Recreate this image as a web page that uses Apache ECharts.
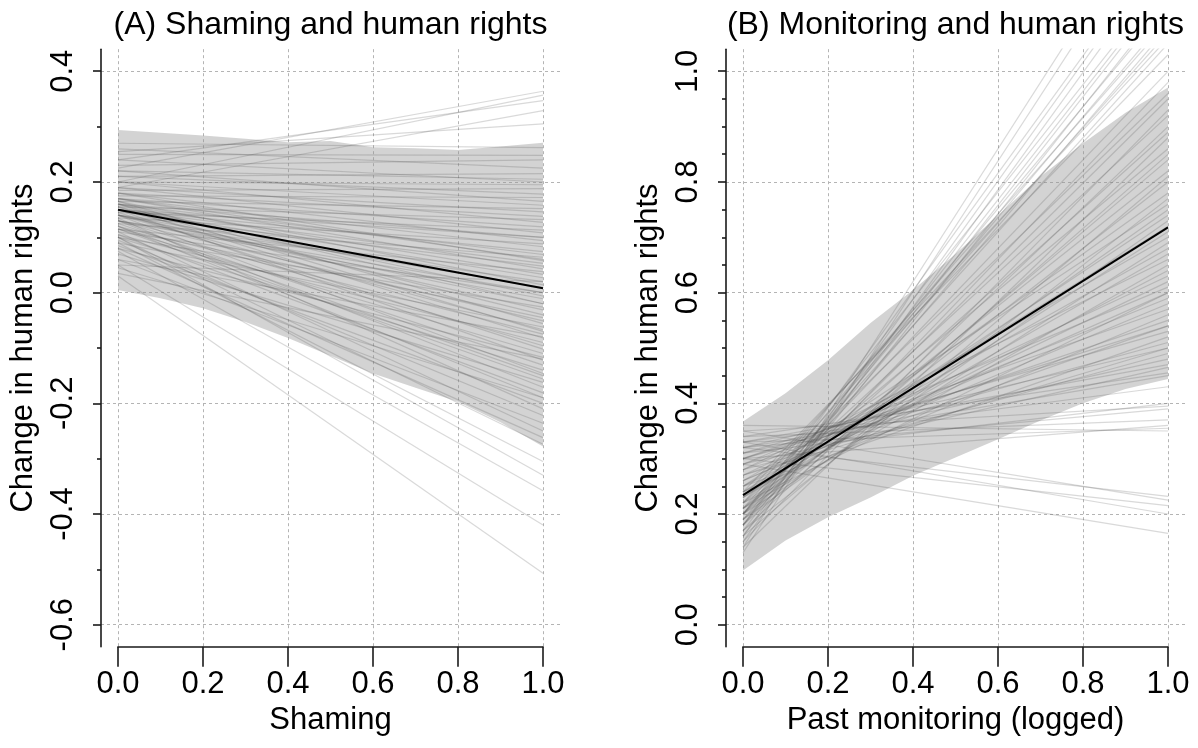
<!DOCTYPE html>
<html><head><meta charset="utf-8">
<script src="https://cdn.jsdelivr.net/npm/echarts@6/dist/echarts.min.js"></script>
<style>html,body{margin:0;padding:0;background:#fff}#c{width:1198px;height:748px}</style>
</head><body><div id="c"></div><script>
// ---------- data ----------
const xTicks = [0, 0.2, 0.4, 0.6, 0.8, 1.0];
const bandX = [0, 0.1, 0.2, 0.3, 0.4, 0.5, 0.6, 0.7, 0.8, 0.9, 1.0];

// Panel A: Shaming
const shamingBandUpper = [0.294, 0.289, 0.284, 0.278, 0.272, 0.274, 0.263, 0.261, 0.258, 0.264, 0.271];
const shamingBandLower = [0.005, -0.010, -0.028, -0.053, -0.082, -0.114, -0.146, -0.172, -0.197, -0.234, -0.278];
const shamingMean = [0.150, 0.008];       // at x = 0 and x = 1
const shamingDrawStart = [0.225,0.20,0.24,0.19,0.255,0.27,0.25,0.23,0.26,0.21,0.24,0.22,0.20,0.185,0.21,0.175,0.22,0.20,0.165,0.19,
  0.18,0.155,0.20,0.17,0.145,0.19,0.16,0.18,0.135,0.17,0.15,0.16,0.125,0.18,0.15,0.14,0.17,0.115,0.16,0.15,
  0.13,0.165,0.14,0.11,0.155,0.13,0.16,0.10,0.14,0.15,0.115,0.13,0.165,0.09,0.14,0.12,0.155,0.105,0.13,0.145,
  0.115,0.08,0.15,0.125,0.10,0.14,0.115,0.07,0.13,0.105,0.12,0.085,0.135,0.095,0.06,0.11,0.08,0.10,0.09,0.10,
  0.075,0.05,0.03,0.035,0.05,0.06,0.045,0.15,0.17,0.14,0.16,0.12,0.13];
const shamingDrawEnd = [0.364,0.357,0.347,0.329,0.305,0.262,0.248,0.24,0.225,0.215,0.20,0.205,0.195,0.188,0.178,0.172,0.165,0.158,0.152,0.146,
  0.138,0.132,0.127,0.119,0.113,0.108,0.10,0.094,0.088,0.083,0.074,0.069,0.064,0.058,0.053,0.048,0.043,0.038,0.033,0.027,
  0.02,0.014,0.009,0.0,-0.006,-0.011,-0.02,-0.026,-0.031,-0.04,-0.045,-0.051,-0.056,-0.062,-0.067,-0.075,-0.082,-0.09,-0.096,-0.102,
  -0.11,-0.117,-0.122,-0.131,-0.14,-0.146,-0.156,-0.162,-0.171,-0.181,-0.19,-0.20,-0.21,-0.222,-0.236,-0.25,-0.262,-0.274,-0.305,-0.33,
  -0.358,-0.42,-0.507,-0.12,0.02,-0.08,-0.19,0.10,0.06,-0.02,-0.07,-0.15,0.0];

// Panel B: Monitoring
const monitorBandUpper = [0.367, 0.418, 0.478, 0.545, 0.605, 0.670, 0.740, 0.810, 0.870, 0.925, 0.971];
const monitorBandLower = [0.098, 0.152, 0.194, 0.230, 0.269, 0.302, 0.335, 0.369, 0.400, 0.426, 0.444];
const monitorMean = [0.234, 0.718];
const monitorDrawStart = [0.14,0.13,0.16,0.18,0.15,0.18,0.20,0.17,0.20,0.19,0.22,0.21,0.18,0.23,0.20,0.16,0.24,
  0.20,0.18,0.22,0.19,0.15,0.21,0.17,0.20,0.14,0.22,0.18,0.19,0.21,0.16,0.20,0.23,0.17,0.25,0.21,0.19,0.24,0.22,0.26,0.20,
  0.25,0.23,0.28,0.21,0.24,0.27,0.25,0.29,0.22,0.28,0.26,0.30,0.24,0.29,0.27,0.31,0.25,0.30,0.32,0.28,0.31,0.33,0.29,0.34,0.32,
  0.26,0.23,0.30,0.27,
  0.33,0.31,0.35,0.32,0.34,0.30,0.33,0.36,0.32,0.35,0.30,0.33,0.29];
const monitorDrawEnd = [1.34,1.31,1.23,1.24,1.21,1.16,1.17,1.15,1.12,1.10,1.09,1.07,1.08,1.06,1.05,1.13,1.03,
  1.00,0.98,0.96,0.95,0.93,0.92,0.90,0.89,0.88,0.86,0.85,0.84,0.82,0.81,0.80,0.78,0.77,0.76,0.75,0.73,0.72,0.71,0.70,0.69,
  0.68,0.67,0.66,0.65,0.64,0.63,0.62,0.61,0.60,0.59,0.58,0.57,0.56,0.55,0.54,0.53,0.52,0.51,0.50,0.49,0.48,0.47,0.465,0.455,0.45,
  0.60,0.74,0.54,0.50,
  0.43,0.40,0.395,0.39,0.37,0.36,0.355,0.35,0.232,0.225,0.215,0.20,0.165];

const shamingYTicks = [-0.6, 0.4];   // first / last major tick
const monitorYTicks = [0.0, 1.0];

// ---------- layout ----------
const FONT = 'Liberation Sans, Arial, Helvetica, sans-serif';
const unit = 425, pad = 0.04 * unit;
const plotTop = 49.2, plotH = 597.6, tickTop = 71.2, tickH = 553.5;
const panels = [
  {x0: 118, title: '(A) Shaming and human rights', xname: 'Shaming', yTicks: shamingYTicks, minorSplit: 2,
   upper: shamingBandUpper, lower: shamingBandLower, mean: shamingMean, s: shamingDrawStart, e: shamingDrawEnd},
  {x0: 743, title: '(B) Monitoring and human rights', xname: 'Past monitoring (logged)', yTicks: monitorYTicks, minorSplit: 4,
   upper: monitorBandUpper, lower: monitorBandLower, mean: monitorMean, s: monitorDrawStart, e: monitorDrawEnd}
];

const grid = [], xAxis = [], yAxis = [], series = [], graphic = [];
const axisCol = '#1a1a1a', gridCol = '#b4b4b4';
panels.forEach((p, k) => {
  const g0 = k * 3;
  const yMin = p.yTicks[0], yMax = p.yTicks[1];
  const span = yMax - yMin;
  grid.push({left: p.x0 - pad, width: unit * 1.08, top: plotTop, height: plotH});
  grid.push({left: p.x0, width: unit, top: plotTop, height: plotH});
  grid.push({left: p.x0 - pad, width: unit * 1.08, top: tickTop, height: tickH});

  xAxis.push({gridIndex: g0, type: 'value', min: -0.04, max: 1.04, show: false});
  yAxis.push({gridIndex: g0, type: 'value', min: yMin - 0.04 * span, max: yMax + 0.04 * span, position: 'left',
    axisLine: {show: true, onZero: false, lineStyle: {color: axisCol, width: 1.6}},
    axisTick: {show: false}, axisLabel: {show: false}, splitLine: {show: false}});

  xAxis.push({gridIndex: g0 + 1, type: 'value', min: 0, max: 1, interval: 0.2, position: 'bottom',
    axisLine: {show: true, onZero: false, lineStyle: {color: axisCol, width: 1.6}},
    axisTick: {show: true, length: 20, lineStyle: {color: axisCol, width: 1.6}},
    axisLabel: {margin: 22, fontSize: 31, color: '#000', fontFamily: FONT, formatter: v => v.toFixed(1)},
    splitLine: {show: true, lineStyle: {color: gridCol, width: 1, type: [3, 3]}},
    name: p.xname, nameLocation: 'middle', nameGap: 58,
    nameTextStyle: {fontSize: 31, color: '#000', fontFamily: FONT}});
  yAxis.push({gridIndex: g0 + 1, type: 'value', min: 0, max: 1, show: false});

  xAxis.push({gridIndex: g0 + 2, type: 'value', min: 0, max: 1, show: false});
  yAxis.push({gridIndex: g0 + 2, type: 'value', min: yMin, max: yMax, interval: 0.2, position: 'left',
    axisLine: {show: false, onZero: false},
    axisTick: {show: true, length: 8, lineStyle: {color: axisCol, width: 1.6}},
    minorTick: {show: true, splitNumber: p.minorSplit, length: 4, lineStyle: {color: axisCol, width: 1.6}},
    axisLabel: {rotate: 90, margin: 22, fontSize: 31, color: '#000', fontFamily: FONT, formatter: v => v.toFixed(1)},
    splitLine: {show: true, lineStyle: {color: gridCol, width: 1, type: [3, 3]}},
    name: 'Change in human rights', nameLocation: 'middle', nameGap: 62, nameRotate: 90,
    nameTextStyle: {fontSize: 31, color: '#000', fontFamily: FONT}});

  series.push({type: 'custom', xAxisIndex: g0, yAxisIndex: g0, silent: true, z: 1,
    data: [[0, 0]],
    renderItem: (params, api) => {
      const pts = [];
      for (let i = 0; i < bandX.length; i++) pts.push(api.coord([bandX[i], p.upper[i]]));
      for (let i = bandX.length - 1; i >= 0; i--) pts.push(api.coord([bandX[i], p.lower[i]]));
      return {type: 'polygon', shape: {points: pts, smooth: 0}, style: {fill: 'rgba(150,150,150,0.42)'}};
    }});
  for (let i = 0; i < p.s.length; i++) {
    series.push({type: 'line', xAxisIndex: g0, yAxisIndex: g0, data: [[0, p.s[i]], [1, p.e[i]]],
      symbol: 'none', silent: true, z: 2, clip: true,
      lineStyle: {color: 'rgba(80,80,80,0.22)', width: 1.2}});
  }
  series.push({type: 'line', xAxisIndex: g0, yAxisIndex: g0, data: [[0, p.mean[0]], [1, p.mean[1]]],
    symbol: 'none', silent: true, z: 3, lineStyle: {color: '#000', width: 2}});

  graphic.push({type: 'text', x: p.x0 + unit / 2, y: 25, silent: true,
    style: {text: p.title, font: '32px ' + FONT, fill: '#000', textAlign: 'center', textVerticalAlign: 'middle',
            align: 'center', verticalAlign: 'middle'}});
});

const chart = echarts.init(document.getElementById('c'), null, {renderer: 'canvas'});
chart.setOption({animation: false, backgroundColor: '#fff', grid, xAxis, yAxis, series, graphic});
</script></body></html>
